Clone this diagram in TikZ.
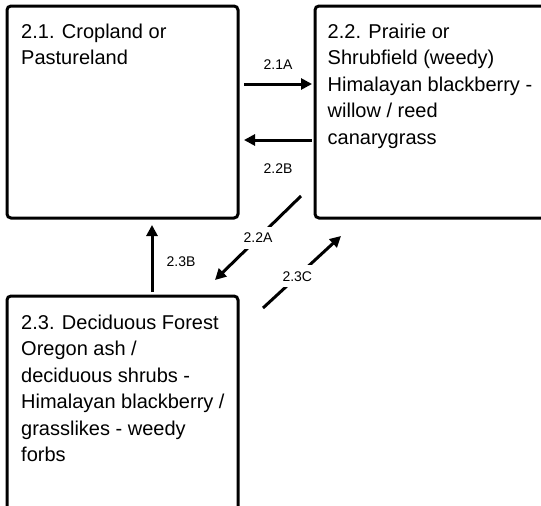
\documentclass[tikz,border=0pt]{standalone}
\usepackage{fontspec}
\setmainfont{Liberation Sans}
\usetikzlibrary{arrows.meta, positioning}

\begin{document}
\begin{tikzpicture}[
  x=1pt, y=-1pt,
  node distance = 78pt and 77pt,
  state/.style = {draw, line width=3pt, rounded corners=4pt, outer sep=0pt,
                  minimum width=231pt, minimum height=212pt},
  desc/.style  = {anchor=north west, inner sep=0pt, align=left,
                  font=\fontsize{20pt}{26.5pt}\selectfont},
  lab/.style   = {inner sep=2pt, font=\fontsize{14pt}{16pt}\selectfont},
  arr/.style   = {-{Triangle[length=11pt, width=11pt]}, line width=3pt},
]
  \clip (0,0) rectangle (541,506);
  \fill[white] (0,0) rectangle (541,506);
  % states
  \node[state] (crop) at (122.5,112) {};
  \node[state, right=of crop, minimum width=232pt] (prairie) {};
  \node[state, below=of crop, minimum height=220pt] (forest) {};
  \node[desc] (croptxt) at ([shift={(14pt,-17.5pt)}]crop.north west)
    {2.1. Cropland or\\Pastureland};
  \node[desc] (prairietxt) at ([shift={(12.5pt,-17.5pt)}]prairie.north west)
    {2.2. Prairie or\\Shrubfield (weedy)\\Himalayan blackberry -\\willow / reed\\canarygrass};
  \node[desc] (foresttxt) at ([shift={(14pt,-18.5pt)}]forest.north west)
    {2.3. Deciduous Forest\\Oregon ash /\\deciduous shrubs -\\Himalayan blackberry /\\grasslikes - weedy\\forbs};
  % transitions
  \draw[arr] ([shift={(6pt,-78pt)}]crop.north east) -- ([shift={(-3pt,-78pt)}]prairie.north west);
  \draw[arr] ([shift={(-3pt,-134pt)}]prairie.north west) -- ([shift={(6pt,-134pt)}]crop.north east);
  \draw[arr] ([shift={(29.5pt,4pt)}]forest.north) -- ([shift={(29.5pt,-7pt)}]crop.south);
  \draw[arr] ([shift={(-14pt,22pt)}]prairie.south west)
    -- node[lab, fill=white, inner sep=6pt] (l22A) {2.2A}
    ([shift={(-23pt,16pt)}]forest.north east);
  \draw[arr] ([shift={(25pt,-12pt)}]forest.north east)
    -- node[lab, fill=white, inner sep=6pt, pos=0.44] (l23C) {2.3C}
    ([shift={(26pt,-18pt)}]prairie.south west);
  \node[lab] (l21A) at (278,65) {2.1A};
  \node[lab] (l22B) at (278,168.5) {2.2B};
  \node[lab] (l23B) at (181,262) {2.3B};
\end{tikzpicture}
\end{document}
